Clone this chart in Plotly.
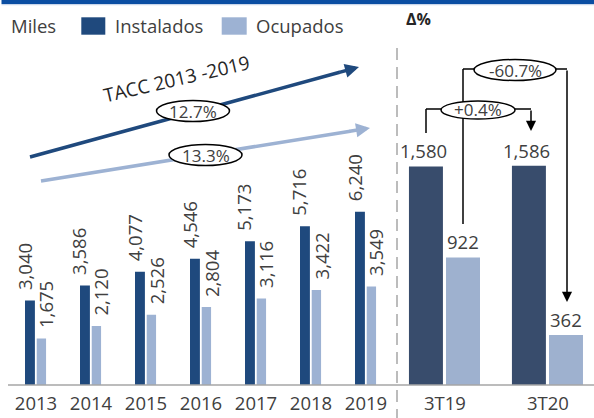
import math
import plotly.graph_objects as go

W, H = 594, 418

# ---------------- data ----------------
years = ["2013", "2014", "2015", "2016", "2017", "2018", "2019"]
instalados_anual = [3040, 3586, 4077, 4546, 5173, 5716, 6240]
ocupados_anual = [1675, 2120, 2526, 2804, 3116, 3422, 3549]
trimestres = ["3T19", "3T20"]
instalados_trim = [1580, 1586]
ocupados_trim = [922, 362]
series_names = ["Instalados", "Ocupados"]
tacc_labels = ["12.7%", "13.3%"]          # Instalados, Ocupados
delta_labels = ["+0.4%", "-60.7%"]        # Instalados, Ocupados
unit_label = "Miles"
tacc_title = "TACC 2013 -2019"
delta_title = "Δ%"

# ---------------- style ----------------
FONT = "Open Sans, Lato, DejaVu Sans, sans-serif"
TXT = "#404040"
DARK = "#1f497d"
LIGHT = "#9db2d3"
DARK2 = "#384c6c"
LIGHT2 = "#9eb1cf"
GRID = "#a6a6a6"


def X(px):
    return px / W


def Y(py):
    return 1 - py / H


fig = go.Figure()

fig.add_bar(x=years, y=instalados_anual, name=series_names[0], xaxis="x", yaxis="y",
            marker=dict(color=DARK, line=dict(width=0)), offset=-0.2, width=0.18)
fig.add_bar(x=years, y=ocupados_anual, name=series_names[1], xaxis="x", yaxis="y",
            marker=dict(color=LIGHT, line=dict(width=0)), offset=0.013, width=0.17)
fig.add_bar(x=trimestres, y=instalados_trim, name=series_names[0], xaxis="x2", yaxis="y2",
            marker=dict(color=DARK2, line=dict(width=0)), offset=-0.35, width=0.33)
fig.add_bar(x=trimestres, y=ocupados_trim, name=series_names[1], xaxis="x2", yaxis="y2",
            marker=dict(color=LIGHT2, line=dict(width=0)), offset=0.01, width=0.33)

anns = []
shapes = []

LBL = dict(size=18.5, color=TXT, family=FONT)

# data labels, annual (rotated) -- x given as category serial number
for i, v in enumerate(instalados_anual):
    anns.append(dict(x=i, y=v, xref="x", yref="y", text=f"{v:,}", textangle=-90,
                     xanchor="center", yanchor="bottom", xshift=-12, yshift=8,
                     showarrow=False, font=LBL))
for i, v in enumerate(ocupados_anual):
    anns.append(dict(x=i, y=v, xref="x", yref="y", text=f"{v:,}", textangle=-90,
                     xanchor="center", yanchor="bottom", xshift=10, yshift=8,
                     showarrow=False, font=LBL))
# data labels, quarterly
for i, v in enumerate(instalados_trim):
    anns.append(dict(x=i, y=v, xref="x2", yref="y2", text=f"{v:,}",
                     xanchor="center", yanchor="bottom", xshift=-21, yshift=1,
                     showarrow=False, font=LBL))
for i, v in enumerate(ocupados_trim):
    anns.append(dict(x=i, y=v, xref="x2", yref="y2", text=f"{v:,}",
                     xanchor="center", yanchor="bottom", xshift=18, yshift=1,
                     showarrow=False, font=LBL))

# top band
shapes.append(dict(type="rect", xref="paper", yref="paper", x0=X(1.5), x1=1, y0=Y(4), y1=1,
                   fillcolor="#0b4ea2", line=dict(width=0), layer="above"))
shapes.append(dict(type="line", xref="paper", yref="paper", x0=X(1.5), x1=1, y0=Y(4.7), y1=Y(4.7),
                   line=dict(color="#c9d6ea", width=1.2)))

# legend
shapes.append(dict(type="rect", xref="paper", yref="paper", x0=X(81.3), x1=X(105.3), y0=Y(34.7), y1=Y(17.3),
                   fillcolor=DARK, line=dict(width=0)))
shapes.append(dict(type="rect", xref="paper", yref="paper", x0=X(221.7), x1=X(246.7), y0=Y(34.7), y1=Y(17.3),
                   fillcolor=LIGHT, line=dict(width=0)))
for txt, px in [(unit_label, 8.5), (series_names[0], 112.5), (series_names[1], 254)]:
    anns.append(dict(x=X(px), y=Y(26), xref="paper", yref="paper", text=txt, showarrow=False,
                     xanchor="left", yanchor="middle", font=LBL))
anns.append(dict(x=X(418.5), y=Y(19.5), xref="paper", yref="paper", text=f"<b>{delta_title}</b>",
                 showarrow=False, xanchor="center", yanchor="middle",
                 font=dict(size=16, color="#262626", family=FONT)))

# baseline and separator
shapes.append(dict(type="line", xref="paper", yref="paper", x0=X(8), x1=1, y0=Y(385), y1=Y(385),
                   line=dict(color=GRID, width=1.5)))
shapes.append(dict(type="line", xref="paper", yref="paper", x0=X(397), x1=X(397), y0=Y(48), y1=0,
                   line=dict(color=GRID, width=1.5, dash="12px,7px")))


def seg(x0, y0, x1, y1, color="black", width=1.5):
    return dict(type="line", xref="paper", yref="paper", x0=X(x0), y0=Y(y0), x1=X(x1), y1=Y(y1),
                line=dict(color=color, width=width))


def arrowhead(head, tail, color, width, size):
    return dict(x=X(head[0]), y=Y(head[1]), xref="paper", yref="paper", text="",
                showarrow=True, ax=tail[0] - head[0], ay=tail[1] - head[1], axref="pixel", ayref="pixel",
                arrowhead=2, arrowsize=size, arrowwidth=width, arrowcolor=color, standoff=0)


def long_arrow(head, tail, color, width, size, tip=22):
    """Body drawn as a shape (below the ellipses), only the tip as an annotation arrow."""
    dx, dy = head[0] - tail[0], head[1] - tail[1]
    L = math.hypot(dx, dy)
    mid = (head[0] - tip * dx / L, head[1] - tip * dy / L)
    shapes.append(seg(tail[0], tail[1], mid[0] + 2 * dx / L, mid[1] + 2 * dy / L, color, width))
    anns.append(arrowhead(head, mid, color, width, size))


# TACC arrows
long_arrow((359, 67), (30, 157), DARK, 3.5, 0.8)
long_arrow((370, 128), (41, 181), LIGHT, 3.5, 0.8)
anns.append(dict(x=X(176), y=Y(79), xref="paper", yref="paper", text=tacc_title, textangle=-13,
                 showarrow=False, xanchor="center", yanchor="middle",
                 font=dict(size=19, color="#262626", family=FONT)))

# right brackets
shapes += [seg(463, 224, 463, 69), seg(463, 69, 567, 69)]
shapes += [seg(426, 133, 426, 109), seg(426, 109, 531, 109)]
anns.append(arrowhead((567, 302), (567, 69), "black", 1.5, 1.35))
anns.append(arrowhead((531, 131), (531, 109), "black", 1.5, 1.35))


def ellipse(cx, cy, w, h):
    return dict(type="circle", xref="paper", yref="paper", x0=X(cx - w / 2), x1=X(cx + w / 2),
                y0=Y(cy + h / 2), y1=Y(cy - h / 2), fillcolor="white",
                line=dict(color="black", width=1.5), layer="above")


ells = [((193, 111, 73, 21), tacc_labels[0]), ((205.5, 155, 73, 21), tacc_labels[1]),
        ((478, 110, 74, 18), delta_labels[0]), ((515, 70, 82, 21), delta_labels[1])]
for (cx, cy, w, h), lab in ells:
    shapes.append(ellipse(cx, cy, w, h))
    anns.append(dict(x=X(cx), y=Y(cy), xref="paper", yref="paper", text=lab, showarrow=False,
                     xanchor="center", yanchor="middle", font=dict(size=17, color=TXT, family=FONT)))

axis_common = dict(type="category", showgrid=False, zeroline=False, showline=False, ticks="",
                   tickfont=LBL, fixedrange=True)

fig.update_layout(
    width=W, height=H, margin=dict(l=0, r=0, t=0, b=0),
    paper_bgcolor="white", plot_bgcolor="white",
    barmode="overlay", showlegend=False,
    font=dict(family=FONT, color=TXT),
    xaxis=dict(domain=[X(8.5), X(393.5)], range=[-0.5, 6.5], anchor="y", ticklabelstandoff=5, **axis_common),
    yaxis=dict(domain=[Y(385), 1], range=[0, 385 * 36.0], visible=False, fixedrange=True),
    xaxis2=dict(domain=[X(397), 1], range=[-0.466, 1.447], anchor="y2", ticklabelstandoff=5, **axis_common),
    yaxis2=dict(domain=[Y(385), 1], range=[0, 385 * 7.23], visible=False, anchor="x2", fixedrange=True),
    annotations=anns, shapes=shapes,
)

fig.write_html("out.html", config={"displayModeBar": False},
               post_script="document.body.style.margin='0';document.body.style.overflow='hidden';")
